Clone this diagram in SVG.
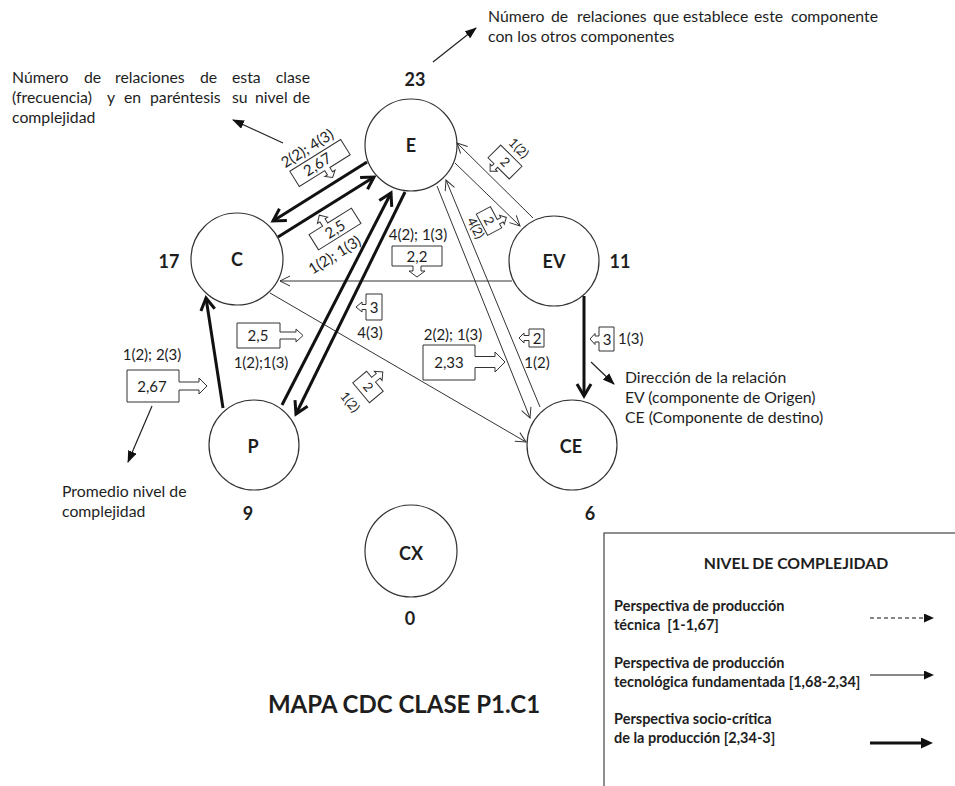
<svg xmlns="http://www.w3.org/2000/svg" width="955" height="786" viewBox="0 0 955 786">
<style>
text { font-family: Lato, "Liberation Sans", Arial, sans-serif; fill: #1e1e1e; }
.node { fill: #fff; stroke: #333; stroke-width: 1.2; }
.nl { font-weight: 700; font-size: 18px; text-anchor: middle; }
.cnt { font-weight: 700; font-size: 18px; text-anchor: middle; }
.lbl { font-size: 15px; }
.mid { text-anchor: middle; }
.sm { font-size: 13px; }
.ann { font-size: 15.8px; }
.leg { font-size: 14.5px; font-weight: 700; }
.thick { stroke: #111; stroke-width: 3; fill: none; marker-end: url(#hThick); }
.thin { stroke: #333; stroke-width: 1; fill: none; marker-end: url(#hThin); }
.co { fill: #fff; stroke: #333; stroke-width: 1; stroke-linejoin: miter; }
.aline { stroke: #222; stroke-width: 1.2; fill: none; marker-end: url(#triA); }
</style>
<defs>
<marker id="hThin" viewBox="-2 -2 16 14" refX="11" refY="5" markerWidth="16" markerHeight="14" markerUnits="userSpaceOnUse" orient="auto">
<path d="M1,0 L11,5 L1,10" fill="none" stroke="#333" stroke-width="1"/>
</marker>
<marker id="hThick" viewBox="-3 -3 22 20" refX="13" refY="7" markerWidth="22" markerHeight="20" markerUnits="userSpaceOnUse" orient="auto">
<path d="M1,0 L13,7 L1,14" fill="none" stroke="#111" stroke-width="3"/>
</marker>
<marker id="triA" viewBox="0 0 12 9" refX="11" refY="4.5" markerWidth="12" markerHeight="9" markerUnits="userSpaceOnUse" orient="auto">
<path d="M0,0 L12,4.5 L0,9 Z" fill="#111"/>
</marker>
<marker id="triL" viewBox="0 0 10 9" refX="0" refY="4.5" markerWidth="10" markerHeight="9" markerUnits="userSpaceOnUse" orient="auto">
<path d="M0,0 L10,4.5 L0,9 Z" fill="#111"/>
</marker>
<marker id="triT" viewBox="0 0 12 11" refX="0" refY="5.5" markerWidth="12" markerHeight="11" markerUnits="userSpaceOnUse" orient="auto">
<path d="M0,0 L12,5.5 L0,11 Z" fill="#111"/>
</marker>
</defs>

<!-- Nodes -->
<g id="node-E">
<circle class="node" cx="411" cy="145" r="46"/>
<text class="nl" x="411" y="151.5">E</text>
<text class="cnt" x="415" y="86">23</text>
</g>
<g id="node-C">
<circle class="node" cx="237" cy="259" r="46"/>
<text class="nl" x="237" y="266">C</text>
<text class="cnt" x="169" y="268">17</text>
</g>
<g id="node-EV">
<circle class="node" cx="554" cy="261" r="45"/>
<text class="nl" x="554" y="268">EV</text>
<text class="cnt" x="620" y="268">11</text>
</g>
<g id="node-P">
<circle class="node" cx="254" cy="445" r="45"/>
<text class="nl" x="253" y="453">P</text>
<text class="cnt" x="248" y="520">9</text>
</g>
<g id="node-CE">
<circle class="node" cx="572" cy="445" r="45"/>
<text class="nl" x="571" y="453">CE</text>
<text class="cnt" x="590" y="520">6</text>
</g>
<g id="node-CX">
<circle class="node" cx="411" cy="551" r="46"/>
<text class="nl" x="411" y="560" font-weight="400">CX</text>
<text class="cnt" x="410" y="625">0</text>
</g>

<!-- Connectors -->
<g id="connectors">
<line class="thick" x1="367" y1="162" x2="273" y2="221"/>
<line class="thick" x1="278" y1="237" x2="374" y2="177"/>
<line class="thin" x1="512" y1="281" x2="280" y2="281"/>
<line class="thin" x1="270" y1="293" x2="526" y2="442"/>
<line class="thick" x1="223" y1="408" x2="206" y2="298"/>
<line class="thick" x1="282" y1="405" x2="391" y2="193"/>
<line class="thick" x1="405" y1="192" x2="296" y2="414"/>
<line class="thin" x1="533" y1="218" x2="457" y2="143"/>
<line class="thin" x1="455" y1="163" x2="520" y2="226"/>
<line class="thin" x1="437" y1="186" x2="530" y2="418"/>
<line class="thin" x1="540" y1="407" x2="446" y2="180"/>
<line class="thick" x1="584" y1="296" x2="584" y2="396"/>
</g>

<!-- Edge labels -->
<g id="edge-labels">
<g id="lbl-E-C" transform="translate(320,163) rotate(-32)">
<path class="co" d="M-30,-9 H30 V9 H6 V14 H9 L3,19 L-3,14 H0 V9 H-30 Z"/>
<text class="lbl mid" x="-3" y="5">2,67</text>
<text class="lbl mid" x="-3" y="-14">2(2); 4(3)</text>
</g>
<g id="lbl-C-E" transform="translate(335,229) rotate(-32)">
<path class="co" d="M-25,9 V-9 H-9 V-14 H-12 L-6,-20 L0,-14 H-3 V-9 H25 V9 Z"/>
<text class="lbl mid" x="0" y="5.5">2,5</text>
<text class="lbl mid" x="-14" y="27">1(2); 1(3)</text>
</g>
<g id="lbl-EV-C">
<path class="co" d="M392,246 H442 V266 H421 V271 H425 L417,277 L409,271 H413 V266 H392 Z"/>
<text class="lbl mid" x="417" y="261.5">2,2</text>
<text class="lbl mid" x="418" y="240">4(2); 1(3)</text>
</g>
<g id="lbl-C-CE">
<path class="co" d="M423,345 H475 V356.5 H495 V352 L505,362 L495,372 V367.5 H475 V380 H423 Z"/>
<text class="lbl mid" x="449" y="367.5">2,33</text>
<text class="lbl mid" x="453" y="340">2(2); 1(3)</text>
</g>
<g id="lbl-P-C">
<path class="co" d="M127,370 H179 V382 H199 V378 L207,386 L199,394 V390 H179 V402 H127 Z"/>
<text class="lbl mid" x="152" y="391.5">2,67</text>
<text class="lbl mid" x="152" y="360">1(2); 2(3)</text>
</g>
<g id="lbl-P-E">
<path class="co" d="M237,323 H280 V332 H296 V329 L303,335.5 L296,342 V339 H280 V348 H237 Z"/>
<text class="lbl mid" x="258" y="341">2,5</text>
<text class="lbl mid" x="261" y="368">1(2);1(3)</text>
</g>
<g id="lbl-E-P">
<path class="co" d="M382,294 H366 V304.5 H362 V302 L356,307 L362,312 V309.5 H366 V320 H382 Z"/>
<text class="lbl mid" x="374" y="312.5">3</text>
<text class="lbl mid" x="370" y="338">4(3)</text>
</g>
<g id="lbl-CE-E">
<path class="co" d="M544,329 H529 V335.5 H524 V333 L519,338 L524,343 V340.5 H529 V347 H544 Z"/>
<text class="lbl mid" x="537" y="343.5">2</text>
<text class="lbl mid" x="537" y="368">1(2)</text>
</g>
<g id="lbl-EV-CE">
<path class="co" d="M614,327 H599 V336 H595 V333.5 L590,339 L595,344.5 V342 H599 V351 H614 Z"/>
<text class="lbl mid" x="607" y="344.5">3</text>
<text class="lbl" x="618" y="344">1(3)</text>
</g>
<g id="lbl-EV-E" transform="translate(505,162) rotate(45)">
<path class="co" d="M-15,-9 H15 V9 H-1.5 V12 H1 L-4,17 L-9,12 H-6.5 V9 H-15 Z"/>
<text class="lbl mid sm" x="0" y="4.5">2</text>
<text class="lbl mid sm" x="0" y="-15">1(2)</text>
</g>
<g id="lbl-E-EV" transform="translate(489,221) rotate(62)">
<path class="co" d="M-12,8 V-8 H2.5 V-12 H0 L5,-17 L10,-12 H7.5 V-8 H12 V8 Z"/>
<text class="lbl mid sm" x="0" y="4.5">2</text>
<text class="lbl mid sm" x="0" y="19.5">4(2)</text>
</g>
<g id="lbl-E-CE" transform="translate(368,387) rotate(50)">
<path class="co" d="M-13,9 V-9 H-5 V-15 H-8 L-2,-21 L4,-15 H1 V-9 H13 V9 Z"/>
<text class="lbl mid sm" x="0" y="4.5">2</text>
<text class="lbl mid sm" x="0" y="28">1(2)</text>
</g>
</g>

<!-- Annotations -->
<g id="annotations">
<text class="ann"><tspan x="12" y="83">Número</tspan><tspan x="84" y="83">de</tspan><tspan x="115" y="83">relaciones</tspan><tspan x="200" y="83">de</tspan><tspan x="232" y="83">esta</tspan><tspan x="310" y="83" text-anchor="end">clase</tspan></text>
<text class="ann"><tspan x="12" y="103">(frecuencia)</tspan><tspan x="107" y="103">y</tspan><tspan x="124" y="103">en</tspan><tspan x="150" y="103">paréntesis</tspan><tspan x="232" y="103">su</tspan><tspan x="255" y="103">nivel</tspan><tspan x="310" y="103" text-anchor="end">de</tspan></text>
<text class="ann" x="12" y="123">complejidad</text>
<line class="aline" x1="283" y1="143" x2="233" y2="120"/>

<text class="ann"><tspan x="488" y="22">Número</tspan><tspan x="551" y="22">de</tspan><tspan x="577" y="22">relaciones</tspan><tspan x="653" y="22">que</tspan><tspan x="683" y="22">establece</tspan><tspan x="754" y="22">este</tspan><tspan x="878" y="22" text-anchor="end">componente</tspan></text>
<text class="ann" x="488" y="42">con los otros componentes</text>
<line class="aline" x1="433" y1="62" x2="476" y2="28"/>

<text class="ann" x="62" y="497">Promedio nivel de</text>
<text class="ann" x="62" y="517">complejidad</text>
<line class="aline" x1="152" y1="406" x2="128" y2="462"/>

<text class="ann" x="625" y="383">Dirección de la relación</text>
<text class="ann" x="625" y="403">EV (componente de Origen)</text>
<text class="ann" x="625" y="423">CE (Componente de destino)</text>
<line class="aline" x1="591" y1="362" x2="614" y2="384"/>
</g>

<text id="title" x="404" y="713" font-size="24" font-weight="700" text-anchor="middle">MAPA CDC CLASE P1.C1</text>

<!-- Legend -->
<g id="legend">
<rect x="604" y="533" width="360" height="270" fill="#fff" stroke="#444" stroke-width="1.2"/>
<text x="796" y="569" font-size="15.8" font-weight="700" text-anchor="middle">NIVEL DE COMPLEJIDAD</text>
<text class="leg" x="614" y="611">Perspectiva de producción</text>
<text class="leg" x="614" y="630" xml:space="preserve">técnica  [1-1,67]</text>
<text class="leg" x="614" y="668">Perspectiva de producción</text>
<text class="leg" x="614" y="687">tecnológica fundamentada [1,68-2,34]</text>
<text class="leg" x="614" y="724">Perspectiva socio-crítica</text>
<text class="leg" x="614" y="743">de la producción [2,34-3]</text>
<line x1="870" y1="618" x2="924" y2="618" stroke="#111" stroke-width="1.2" stroke-dasharray="4,3" marker-end="url(#triL)"/>
<line x1="870" y1="675" x2="924" y2="675" stroke="#111" stroke-width="1.2" marker-end="url(#triL)"/>
<line x1="870" y1="743" x2="921" y2="743" stroke="#111" stroke-width="3" marker-end="url(#triT)"/>
</g>
</svg>
